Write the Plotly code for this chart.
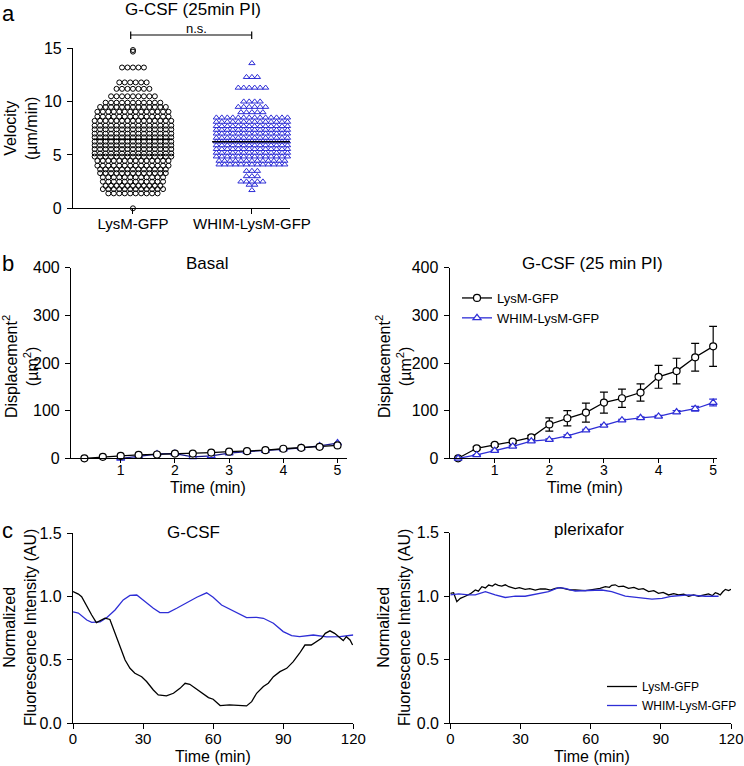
import plotly.graph_objects as go

W, H = 744, 766
def px(x): return x / W
def py(y): return 1 - y / H

BLACK = "black"
BLUE = "#2e2ed6"
FONT = "Liberation Sans, Arial, sans-serif"

# ---------------- Panel a: velocity scatter (rows of the dot plot) ----------------
group_labels = ["LysM-GFP", "WHIM-LysM-GFP"]
lysm_row_values = [14.84, 14.69, 13.2, 11.8, 11.2, 10.5, 9.9, 9.5, 9.05, 8.6, 8.2, 7.75, 7.4, 7.0,
                   6.65, 6.25, 5.9, 5.55, 5.15, 4.85, 4.45, 4.0, 3.65, 3.3, 2.9, 2.5, 2.1, 1.8, 1.4, 0.0]
lysm_row_counts = [1, 1, 5, 6, 7, 9, 11, 13, 14, 14, 15, 15, 15, 15,
                   15, 15, 15, 15, 15, 15, 14, 14, 13, 13, 12, 12, 11, 12, 10, 1]
whim_row_values = [13.6, 12.3, 11.3, 10.0, 9.5, 9.0, 8.5, 8.1, 7.7, 7.35, 7.0, 6.6, 6.25, 5.9,
                   5.55, 5.2, 4.85, 4.45, 4.1, 3.5, 3.0, 2.5, 2.2, 1.7]
whim_row_counts = [1, 3, 6, 4, 6, 5, 14, 14, 14, 14, 14, 14, 14, 14,
                   14, 14, 14, 13, 13, 3, 3, 5, 2, 1]
group_means = [6.47, 6.25]

# ---------------- Panel b: mean squared displacement ----------------
msd_time = [0.33, 0.67, 1.0, 1.33, 1.67, 2.0, 2.33, 2.67, 3.0, 3.33, 3.67, 4.0, 4.33, 4.67, 5.0]
basal_lysm = [0, 3, 5, 7, 8, 10, 10, 12, 14, 15, 17, 20, 22, 24, 27]
basal_whim = [-3, -2, 0, 4, 9, 10, 3, 5, 11, 14, 16, 19, 22, 26, 32]
gcsf_lysm = [0, 21, 28, 35, 44, 71, 84, 96, 117, 126, 138, 171, 183, 212, 235]
gcsf_lysm_err = [1, 3, 3, 3, 4, 14, 16, 20, 22, 19, 18, 24, 27, 29, 42]
gcsf_whim = [0, 7, 16, 25, 36, 39, 47, 59, 69, 80, 85, 88, 97, 104, 117]
gcsf_whim_err = [0, 1, 1, 2, 2, 2, 2, 2, 2, 2, 2, 2, 3, 5, 7]

# ---------------- Panel c: normalized fluorescence intensity ----------------
gcsf_t_lysm = [0, 2.3, 3.7, 5.9, 8, 10, 11.6, 13.7, 15.8, 18, 20, 22.3, 24.4, 26.5, 29.4, 31.5,
               34.4, 36.5, 40, 43, 45.8, 48, 50, 53, 55.8, 58, 60, 63, 67, 71.5, 74.3, 76.5,
               78.6, 81.5, 83.6, 85.8, 88.6, 91.5, 94.3, 97, 99.3, 102, 104, 106.4, 108, 110,
               112, 114.3, 115.7, 117, 118.6, 119.7]
gcsf_lysm_fi = [1.04, 1.02, 1.0, 0.92, 0.855, 0.795, 0.81, 0.83, 0.82, 0.71, 0.605, 0.50, 0.434, 0.395, 0.368, 0.33,
                0.263, 0.224, 0.216, 0.237, 0.276, 0.316, 0.308, 0.271, 0.237, 0.203, 0.19, 0.14, 0.145, 0.142, 0.137, 0.171,
                0.237, 0.29, 0.316, 0.368, 0.408, 0.434, 0.487, 0.553, 0.618, 0.618, 0.645, 0.671, 0.71, 0.73,
                0.71, 0.671, 0.653, 0.684, 0.658, 0.618]
gcsf_t_whim = [0, 2.3, 5.9, 8, 11.6, 14.4, 18, 21.5, 24.4, 27.3, 30, 34.4, 37.2, 40.8, 44.4, 48.7,
               53, 57.2, 60, 63.6, 68.6, 74.3, 78.6, 81.5, 85.8, 90, 93.6, 97, 102.9, 108.6, 114.3, 120]
gcsf_whim_fi = [0.88, 0.87, 0.815, 0.797, 0.80, 0.834, 0.895, 0.974, 1.01, 1.013, 0.974, 0.908, 0.874, 0.874, 0.908, 0.953,
                0.995, 1.03, 0.995, 0.934, 0.887, 0.834, 0.837, 0.829, 0.79, 0.724, 0.692, 0.684, 0.697, 0.682, 0.684, 0.697]

pler_t_lysm = [0, 1.4, 2.8, 4.3, 6.4, 8.5, 10.7, 12, 13.5, 15, 16.4, 18, 19.2, 20.5, 22, 23.5,
               25, 26.5, 27.8, 29.5, 32, 34, 36.3, 38.5, 40.6, 42.8, 44.9, 47, 49, 51, 53.4, 55.5,
               57.7, 60, 62, 64, 66.3, 68, 69, 70.5, 72, 74, 76.2, 78.5, 80.5, 82.5, 84.8, 87,
               89, 91, 93.3, 95.5, 97.6, 99.8, 101.9, 104, 106.2, 108.3, 110.4, 112, 113.3, 114.4,
               115.4, 116.5, 117.6, 119, 120]
pler_lysm_fi = [1.023, 1.028, 0.957, 0.983, 1.0, 1.018, 1.05, 1.04, 1.075, 1.065, 1.088, 1.08, 1.096, 1.085, 1.08, 1.09,
                1.075, 1.07, 1.06, 1.068, 1.054, 1.06, 1.049, 1.058, 1.057, 1.048, 1.062, 1.068, 1.06, 1.05, 1.049, 1.044,
                1.044, 1.05, 1.054, 1.062, 1.075, 1.07, 1.086, 1.09, 1.075, 1.08, 1.062, 1.07, 1.054, 1.06, 1.036, 1.044,
                1.023, 1.03, 1.01, 1.02, 1.01, 1.016, 1.0, 1.01, 1.0, 1.012, 1.018, 1.005, 1.028, 1.02,
                1.01, 1.035, 1.054, 1.045, 1.054]
pler_t_whim = [0, 3.6, 7.8, 10.7, 15, 19.2, 23.5, 27.8, 32, 37.8, 42, 46.3, 49, 53.4, 59, 64.8,
               69, 74.8, 80.5, 86.2, 90.5, 94.8, 101.9, 109, 114.7]
pler_whim_fi = [1.01, 1.018, 1.01, 1.01, 1.036, 1.01, 0.99, 1.0, 1.0, 1.018, 1.036, 1.067, 1.062, 1.041, 1.044, 1.049,
                1.036, 1.0, 0.989, 0.978, 0.983, 1.0, 1.01, 1.0, 1.0]


def swarm(values, counts, center, step):
    xs, ys = [], []
    for v, n in zip(values, counts):
        for i in range(n):
            xs.append(center + (i - (n - 1) / 2) * step)
            ys.append(v)
    return xs, ys


fig = go.Figure()

# Panel a
lx, ly = swarm(lysm_row_values, lysm_row_counts, 0, 0.046)
wx, wy = swarm(whim_row_values, whim_row_counts, 1, 0.046)
fig.add_trace(go.Scatter(x=lx, y=ly, mode="markers", xaxis="x", yaxis="y", showlegend=False, cliponaxis=False,
                         marker=dict(symbol="circle-open", size=5, color=BLACK, line=dict(width=1))))
fig.add_trace(go.Scatter(x=wx, y=wy, mode="markers", xaxis="x", yaxis="y", showlegend=False, cliponaxis=False,
                         marker=dict(symbol="triangle-up-open", size=5.5, color=BLUE, line=dict(width=1))))
for i, m in enumerate(group_means):
    fig.add_trace(go.Scatter(x=[i - 0.335, i + 0.335], y=[m, m], mode="lines", xaxis="x", yaxis="y",
                             showlegend=False, line=dict(color=BLACK, width=1.5)))

# Panel b left (Basal)
fig.add_trace(go.Scatter(x=msd_time, y=basal_whim, mode="lines+markers", xaxis="x2", yaxis="y2", showlegend=False,
                         cliponaxis=False, line=dict(color="#1a1a8c", width=1.3),
                         marker=dict(symbol="triangle-up", size=7, color="white", line=dict(color=BLUE, width=1.2))))
fig.add_trace(go.Scatter(x=msd_time, y=basal_lysm, mode="lines+markers", xaxis="x2", yaxis="y2", showlegend=False,
                         cliponaxis=False, line=dict(color=BLACK, width=1.3),
                         marker=dict(symbol="circle", size=7, color="white", line=dict(color=BLACK, width=1.2))))

# Panel b right (G-CSF)
fig.add_trace(go.Scatter(x=msd_time, y=gcsf_lysm, name="LysM-GFP", mode="lines+markers", xaxis="x3", yaxis="y3",
                         cliponaxis=False, legend="legend", line=dict(color=BLACK, width=1.3),
                         error_y=dict(type="data", array=gcsf_lysm_err, color=BLACK, thickness=1.2, width=4),
                         marker=dict(symbol="circle", size=7, color="white", line=dict(color=BLACK, width=1.2))))
fig.add_trace(go.Scatter(x=msd_time, y=gcsf_whim, name="WHIM-LysM-GFP", mode="lines+markers", xaxis="x3", yaxis="y3",
                         cliponaxis=False, legend="legend", line=dict(color=BLUE, width=1.3),
                         error_y=dict(type="data", array=gcsf_whim_err, color=BLUE, thickness=1.2, width=4),
                         marker=dict(symbol="triangle-up", size=7, color="white", line=dict(color=BLUE, width=1.2))))

# Panel c left
fig.add_trace(go.Scatter(x=gcsf_t_whim, y=gcsf_whim_fi, mode="lines", xaxis="x4", yaxis="y4", showlegend=False,
                         line=dict(color=BLUE, width=1.3)))
fig.add_trace(go.Scatter(x=gcsf_t_lysm, y=gcsf_lysm_fi, mode="lines", xaxis="x4", yaxis="y4", showlegend=False,
                         line=dict(color=BLACK, width=1.3)))
# Panel c right
fig.add_trace(go.Scatter(x=pler_t_lysm, y=pler_lysm_fi, name="LysM-GFP", mode="lines", xaxis="x5", yaxis="y5",
                         legend="legend2", line=dict(color=BLACK, width=1.3)))
fig.add_trace(go.Scatter(x=pler_t_whim, y=pler_whim_fi, name="WHIM-LysM-GFP", mode="lines", xaxis="x5", yaxis="y5",
                         legend="legend2", line=dict(color=BLUE, width=1.3)))

ax = dict(showline=True, linecolor=BLACK, linewidth=1.2, ticks="outside", ticklen=5, tickwidth=1.2,
          tickcolor=BLACK, showgrid=False, zeroline=False, tickfont=dict(size=16, color=BLACK, family=FONT),
          ticklabelstandoff=2, automargin=False)

def axx(**kw):
    d = dict(ax); d.update(kw); return d

xfont = dict(size=15, color=BLACK, family=FONT)
bfont = dict(size=14, color=BLACK, family=FONT)

fig.update_layout(
    width=W, height=H, margin=dict(l=0, r=0, t=0, b=0, pad=0, autoexpand=False),
    paper_bgcolor="white", plot_bgcolor="white",
    font=dict(family=FONT, color=BLACK, size=15),
    xaxis=axx(domain=[px(73), px(290)], range=[-0.504, 1.32], tickvals=[0, 1], ticktext=group_labels, anchor="y",
              tickfont=xfont, ticklabelstandoff=-3),
    yaxis=axx(domain=[py(208.3), py(48.3)], range=[0, 15], tickvals=[0, 5, 10, 15], anchor="x"),
    xaxis2=axx(domain=[px(71), px(347)], range=[0.083, 5.175], tickvals=[1, 2, 3, 4, 5], anchor="y2",
               tickfont=bfont, ticklabelstandoff=-5, ticklen=4),
    yaxis2=axx(domain=[py(458.3), py(267.7)], range=[0, 400], tickvals=[0, 100, 200, 300, 400], anchor="x2"),
    xaxis3=axx(domain=[px(449.7), px(717)], range=[0.176, 5.07], tickvals=[1, 2, 3, 4, 5], anchor="y3",
               tickfont=bfont, ticklabelstandoff=-5, ticklen=4),
    yaxis3=axx(domain=[py(458.3), py(267.7)], range=[0, 400], tickvals=[0, 100, 200, 300, 400], anchor="x3"),
    xaxis4=axx(domain=[px(73), px(353.3)], range=[0, 120], tickvals=[0, 30, 60, 90, 120], anchor="y4",
               tickfont=xfont, ticklabelstandoff=-3),
    yaxis4=axx(domain=[py(723.3), py(533.3)], range=[0, 1.5], tickvals=[0, 0.5, 1.0, 1.5], tickformat=".1f", anchor="x4"),
    xaxis5=axx(domain=[px(450.3), px(731)], range=[0, 120], tickvals=[0, 30, 60, 90, 120], anchor="y5",
               tickfont=xfont, ticklabelstandoff=-3),
    yaxis5=axx(domain=[py(723.3), py(532.7)], range=[0, 1.5], tickvals=[0, 0.5, 1.0, 1.5], tickformat=".1f", anchor="x5"),
    legend=dict(x=px(457), y=py(283), xanchor="left", yanchor="top", bgcolor="rgba(0,0,0,0)",
                font=dict(size=13, family=FONT), itemwidth=30, tracegroupgap=0),
    legend2=dict(x=px(602), y=py(672), xanchor="left", yanchor="top", bgcolor="rgba(0,0,0,0)",
                 font=dict(size=12, family=FONT), itemwidth=30, tracegroupgap=0),
)

def ann(text, x, y, size=15, angle=0, **kw):
    fig.add_annotation(text=text, x=px(x), y=py(y), xref="paper", yref="paper", showarrow=False,
                       textangle=angle, font=dict(size=size, family=FONT, color=BLACK),
                       xanchor="center", yanchor="middle", **kw)

# panel letters
ann("a", 8, 13, size=22)
ann("b", 8, 263, size=22)
ann("c", 7, 530, size=22)
# titles
ann("G-CSF (25min PI)", 193, 9.5, size=17)
ann("n.s.", 196, 28.5, size=13)
ann("Basal", 208, 263, size=17)
ann("G-CSF (25 min PI)", 592, 263, size=17)
ann("G-CSF", 193, 532, size=17)
ann("plerixafor", 589, 529, size=17)
# axis titles
ann("Velocity<br>(µm/min)", 21, 129, size=16, angle=-90)
ann("Displacement<sup>2</sup><br>(µm<sup>2</sup>)", 20, 367, size=16, angle=-90)
ann("Displacement<sup>2</sup><br>(µm<sup>2</sup>)", 393, 367, size=16, angle=-90)
ann("Normalized<br>Fluorescence Intensity (AU)", 20, 628, size=16, angle=-90)
ann("Normalized<br>Fluorescence Intensity (AU)", 394, 628, size=16, angle=-90)
ann("Time (min)", 208, 487, size=16)
ann("Time (min)", 585, 487, size=16)
ann("Time (min)", 213, 756, size=16)
ann("Time (min)", 592, 756, size=16)

# significance bracket
for (x0, y0, x1, y1) in [(130.7, 35, 251.7, 35), (130.7, 31.5, 130.7, 39), (251.7, 31.5, 251.7, 39)]:
    fig.add_shape(type="line", xref="paper", yref="paper", x0=px(x0), y0=py(y0), x1=px(x1), y1=py(y1),
                  line=dict(color=BLACK, width=1.2))

fig.write_html("out.html", config={"displayModeBar": False},
               post_script="document.body.style.margin='0';document.body.style.padding='0';"
                           "document.documentElement.style.overflow='hidden';")
